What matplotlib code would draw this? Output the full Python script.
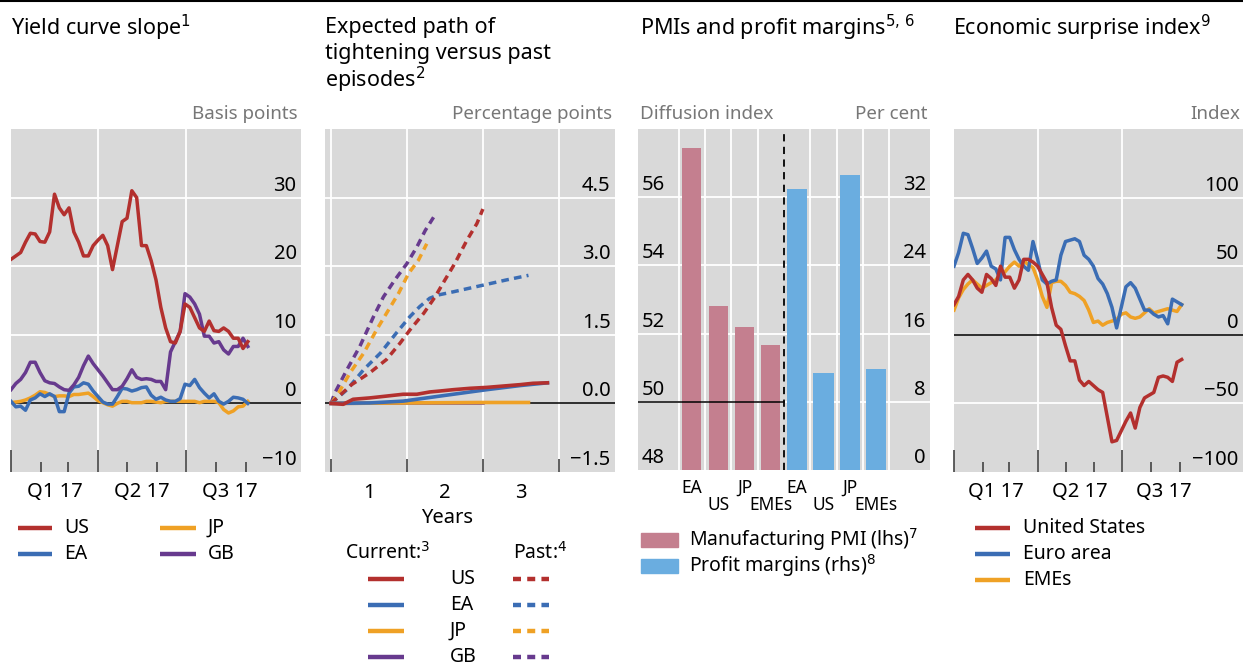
import numpy as np
import matplotlib
matplotlib.use("Agg")
import matplotlib.pyplot as plt
import matplotlib.transforms as mtransforms
from matplotlib.lines import Line2D
from matplotlib.patches import Rectangle

plt.rcParams['font.family'] = ['Noto Sans', 'DejaVu Sans']

# colours
RED = '#b3302e'
BLUE = '#3b6db4'
ORANGE = '#efa125'
PURPLE = '#673a8e'
PINK = '#c47f8f'
LBLUE = '#6aade0'
BG = '#d9d9d9'
UNIT = '#777777'

# ---------------- panel 1: yield curve slope (days since 1 Jan 2017)
days1 = list(range(0, 250, 5))
slope_us = [21, 21.5, 22, 23.5, 24.8, 24.7, 23.6, 23.5, 25, 30.5,
            28.5, 27.5, 28.5, 25, 23.5, 21.5, 21.5, 23, 23.8, 24.5,
            23, 19.5, 23, 26.5, 27, 31, 30, 23, 23, 20.8,
            18, 14, 11, 9, 8.8, 10.5, 14.5, 14, 12.5, 11,
            10.5, 12, 10.6, 10.5, 11, 10.5, 9.5, 9.5, 8, 9]
slope_gb = [2, 2.9, 3.5, 4.5, 6, 6, 4.5, 3.3, 3, 2.9,
            2.4, 2, 1.9, 2.7, 3.8, 5.5, 6.9, 5.8, 4.9, 4,
            3, 2, 2, 2.5, 3.6, 4.9, 3.8, 3.5, 3.6, 3.5,
            3.2, 3.2, 2, 7.5, 9, 10.5, 16, 15.5, 14.5, 13,
            9.8, 9.8, 8.8, 9, 7.8, 7.2, 8.3, 8.3, 9.5, 8.3]
slope_ea = [0.3, -0.5, -0.4, -1, 0.5, 0.8, 1.4, 1, 1.4, 1,
            -1.2, -1.2, 1.5, 2.4, 2.5, 3, 2.8, 1.8, 1, 0.2,
            -0.1, -0.1, 1, 2.2, 2.1, 1.8, 2, 2.3, 2.4, 1.2,
            0.6, 0.9, 0.5, 0.3, 0.3, 0.7, 2.8, 2.6, 3.5, 2.3,
            1.5, 0.8, 1.4, 0.3, -0.1, 0.3, 0.9, 0.8, 0.6, 0]
slope_jp = [0.1, 0.2, 0.3, 0.5, 0.8, 1.2, 1.7, 1.6, 1.3, 1,
            1.1, 1.1, 1, 1.3, 1.3, 1.4, 1.5, 1, 0.4, 0.1,
            -0.2, -0.4, 0, 0.3, 0.3, 0.1, 0.1, 0.1, 0.3, 0.3,
            0.2, 0.1, 0.3, 0.3, 0.3, 0.3, 0.3, 0.3, 0.3, 0.1,
            0.3, 0.3, 0.3, 0.1, -0.9, -1.4, -1.1, -0.5, -0.4, 0.3]

# ---------------- panel 2: expected path of tightening (years)
cur_us_x = [0.5, 0.66, 0.79, 1.01, 1.23, 1.45, 1.63, 1.8, 1.93, 2.11, 2.33, 2.55, 2.77, 2.99, 3.16, 3.35]
cur_us_y = [0, -0.02, 0.09, 0.12, 0.16, 0.2, 0.2, 0.25, 0.27, 0.3, 0.33, 0.35, 0.38, 0.41, 0.44, 0.45]
cur_ea_x = [0.5, 1.01, 1.45, 1.67, 2.11, 2.55, 2.99, 3.35]
cur_ea_y = [0, 0.01, 0.05, 0.1, 0.2, 0.3, 0.39, 0.45]
cur_jp_x = [0.5, 1.5, 2.5, 3.1]
cur_jp_y = [0, 0.01, 0.02, 0.02]
cur_gb_x = [0.5, 1.5, 2.5]
cur_gb_y = [0, 0.01, 0.01]
past_us_x = [0.5, 0.77, 1.01, 1.23, 1.41, 1.54, 1.72, 1.87, 2.0, 2.13, 2.29, 2.42, 2.5]
past_us_y = [0, 0.41, 0.67, 0.96, 1.32, 1.61, 1.97, 2.33, 2.7, 3.06, 3.57, 3.93, 4.25]
past_ea_x = [0.5, 0.71, 0.93, 1.15, 1.36, 1.54, 1.67, 1.8, 1.91, 2.11, 2.46, 2.81, 3.1]
past_ea_y = [0, 0.3, 0.74, 1.1, 1.54, 1.9, 2.12, 2.3, 2.37, 2.44, 2.57, 2.7, 2.8]
past_jp_x = [0.5, 0.6, 0.75, 0.93, 1.1, 1.23, 1.39, 1.52, 1.65, 1.76]
past_jp_y = [0, 0.23, 0.67, 1.1, 1.61, 1.97, 2.41, 2.84, 3.13, 3.49]
past_gb_x = [0.5, 0.55, 0.71, 0.88, 1.06, 1.19, 1.34, 1.5, 1.63, 1.74, 1.85]
past_gb_y = [0, 0.23, 0.74, 1.25, 1.9, 2.33, 2.7, 3.06, 3.42, 3.78, 4.07]

# ---------------- panel 3: PMIs and profit margins
regions = ['EA', 'US', 'JP', 'EMEs']
pmi = [57.45, 52.82, 52.2, 51.68]
margins = [33.0, 11.4, 34.6, 11.8]

# ---------------- panel 4: economic surprise index
days4 = list(range(0, 250, 5))
esi_us = [22, 28, 40, 44, 40, 34, 31, 44, 41, 36,
          50, 42, 42, 34, 40, 55, 55, 53, 50, 44,
          38, 20, 7, 4, -8, -19, -19, -33, -37, -34,
          -37, -40, -42, -60, -78, -77, -70, -63, -57, -68,
          -53, -46, -44, -42, -31, -30, -31, -34, -20, -18]
esi_ea = [50, 60, 74, 73, 63, 52, 56, 61, 50, 48,
          40, 71, 71, 62, 55, 50, 47, 68, 55, 40,
          37, 39, 40, 58, 68, 69, 70, 68, 58, 55,
          50, 41, 37, 30, 20, 5, 20, 35, 38, 34,
          26, 18, 18, 15, 13, 14, 8, 26, 24, 22]
esi_em = [18, 27, 33, 37, 40, 37, 34, 36, 38, 40,
          44, 46, 50, 53, 50, 54, 51, 49, 40, 28,
          20, 38, 39, 39, 36, 31, 30, 28, 25, 18,
          9, 10, 7, 9, 10, 11, 15, 16, 13, 12,
          13, 16, 19, 16, 17, 18, 19, 18, 17, 22]

quarter_starts = [0, 90, 181]
month_starts = [31, 59, 120, 151, 212, 243]
quarter_mids = [45, 135, 226]
quarter_labels = ['Q1 17', 'Q2 17', 'Q3 17']

W, H = 1243, 666
fig = plt.figure(figsize=(W / 100, H / 100), dpi=100)

TICK_FS = 14.5
TITLE_FS = 15.5
UNIT_FS = 13.5
LEG_FS = 14
LW = 2.5


def px_axes(x0, x1, y0=129, y1=472):
    return fig.add_axes([x0 / W, 1 - y1 / H, (x1 - x0) / W, (y1 - y0) / H])


def base_style(ax):
    ax.set_facecolor(BG)
    for s in ax.spines.values():
        s.set_visible(False)
    ax.tick_params(axis='y', left=False, right=False, labelleft=False, labelright=False)


def ylabels(ax, ticks, labels, side='right'):
    tr = mtransforms.blended_transform_factory(ax.transAxes, ax.transData)
    tr = mtransforms.offset_copy(tr, fig=fig, y=1.5, units='points')
    for v, lab in zip(ticks, labels):
        if side == 'right':
            ax.text(0.985, v, lab, transform=tr, ha='right', va='bottom', fontsize=TICK_FS)
        else:
            ax.text(0.012, v, lab, transform=tr, ha='left', va='bottom', fontsize=TICK_FS)


def hgrid(ax, ticks):
    for v in ticks:
        ax.axhline(v, color='white', lw=1.3, zorder=0.5)


def date_axis(ax, xmax):
    ax.set_xlim(0, xmax)
    ax.set_xticks(quarter_starts)
    ax.set_xticks(month_starts, minor=True)
    ax.tick_params(axis='x', which='major', direction='in', length=16, width=1.2,
                   color='#444444', labelbottom=False)
    ax.tick_params(axis='x', which='minor', direction='in', length=7.5, width=1.2,
                   color='#444444', labelbottom=False)
    for q in quarter_starts[1:]:
        ax.axvline(q, color='white', lw=1.3, zorder=0.5)
    tr = mtransforms.blended_transform_factory(ax.transData, ax.transAxes)
    for xm, lab in zip(quarter_mids, quarter_labels):
        ax.text(xm, -0.058, lab, transform=tr, ha='center', va='center', fontsize=TICK_FS)


def fig_text(x, y, s, **kw):
    fig.text(x / W, 1 - y / H, s, **kw)


def leg_line(x0, x1, y, color, dashed=False):
    ln = Line2D([x0 / W, x1 / W], [1 - y / H, 1 - y / H], color=color, lw=3.2,
                transform=fig.transFigure, solid_capstyle='butt', dash_capstyle='butt')
    if dashed:
        ln.set_dashes((1.8, 1.4))
    fig.add_artist(ln)


def leg_patch(x0, x1, y, color):
    fig.add_artist(Rectangle((x0 / W, 1 - (y + 7) / H), (x1 - x0) / W, 14 / H,
                             color=color, transform=fig.transFigure))


# top rule
fig.add_artist(Line2D([0, 1], [1 - 1 / H, 1 - 1 / H], color='black', lw=1.5,
                      transform=fig.transFigure))

# ---------------- panel 1
ax1 = px_axes(11, 301)
base_style(ax1)
ax1.set_ylim(-10, 40)
hgrid(ax1, [10, 20, 30])
ax1.axhline(0, color='black', lw=1.1, zorder=1)
ylabels(ax1, [-10, 0, 10, 20, 30], ['\u221210', '0', '10', '20', '30'])
date_axis(ax1, 300)
ax1.plot(days1, slope_jp, color=ORANGE, lw=LW, zorder=2)
ax1.plot(days1, slope_ea, color=BLUE, lw=LW, zorder=3)
ax1.plot(days1, slope_gb, color=PURPLE, lw=LW, zorder=4)
ax1.plot(days1, slope_us, color=RED, lw=LW, zorder=5)

fig_text(11, 28, 'Yield curve slope$^{1}$', fontsize=TITLE_FS, va='center')
fig_text(298, 114, 'Basis points', fontsize=UNIT_FS, color=UNIT, ha='right', va='center')
leg_line(18, 52, 528, RED)
fig_text(64, 528, 'US', fontsize=LEG_FS, va='center')
leg_line(18, 52, 554, BLUE)
fig_text(64, 554, 'EA', fontsize=LEG_FS, va='center')
leg_line(160, 196, 528, ORANGE)
fig_text(208, 528, 'JP', fontsize=LEG_FS, va='center')
leg_line(160, 196, 554, PURPLE)
fig_text(208, 554, 'GB', fontsize=LEG_FS, va='center')

# ---------------- panel 2
ax2 = px_axes(325, 615)
base_style(ax2)
ax2.set_ylim(-1.5, 6.0)
ax2.set_xlim(0.42, 4.24)
hgrid(ax2, [1.5, 3.0, 4.5])
ax2.axhline(0, color='black', lw=1.1, zorder=1)
ylabels(ax2, [-1.5, 0, 1.5, 3.0, 4.5], ['\u22121.5', '0.0', '1.5', '3.0', '4.5'])
half_years = [0.5, 1.5, 2.5, 3.5]
for v in half_years:
    ax2.axvline(v, color='white', lw=1.3, zorder=0.5)
ax2.set_xticks(half_years)
ax2.tick_params(axis='x', direction='in', length=9.5, width=1.2, color='#444444', labelbottom=False)
tr2 = mtransforms.blended_transform_factory(ax2.transData, ax2.transAxes)
for v in [1, 2, 3]:
    ax2.text(v, -0.06, str(v), transform=tr2, ha='center', va='center', fontsize=TICK_FS)
ax2.text(2.03, -0.135, 'Years', transform=tr2, ha='center', va='center', fontsize=TICK_FS)

dash = (2.2, 1.5)
ax2.plot(past_gb_x, past_gb_y, color=PURPLE, lw=LW, dashes=dash, zorder=2)
ax2.plot(past_jp_x, past_jp_y, color=ORANGE, lw=LW, dashes=dash, zorder=2)
ax2.plot(past_ea_x, past_ea_y, color=BLUE, lw=LW, dashes=dash, zorder=2)
ax2.plot(past_us_x, past_us_y, color=RED, lw=LW, dashes=dash, zorder=2)
ax2.plot(cur_gb_x, cur_gb_y, color=PURPLE, lw=2.6, zorder=3)
ax2.plot(cur_jp_x, cur_jp_y, color=ORANGE, lw=2.6, zorder=3)
ax2.plot(cur_ea_x, cur_ea_y, color=BLUE, lw=2.6, zorder=4)
ax2.plot(cur_us_x, cur_us_y, color=RED, lw=2.6, zorder=5)

fig_text(325, 28, 'Expected path of', fontsize=TITLE_FS, va='center')
fig_text(325, 54, 'tightening versus past', fontsize=TITLE_FS, va='center')
fig_text(325, 80, 'episodes$^{2}$', fontsize=TITLE_FS, va='center')
fig_text(612, 114, 'Percentage points', fontsize=UNIT_FS, color=UNIT, ha='right', va='center')

fig_text(345, 553, 'Current:$^{3}$', fontsize=LEG_FS, va='center')
fig_text(513, 553, 'Past:$^{4}$', fontsize=LEG_FS, va='center')
for yy, lab, col in zip([579, 605, 631, 657], ['US', 'EA', 'JP', 'GB'],
                        [RED, BLUE, ORANGE, PURPLE]):
    leg_line(368, 404, yy, col)
    fig_text(450, yy, lab, fontsize=LEG_FS, va='center')
    leg_line(513, 549, yy, col, dashed=True)

# ---------------- panel 3
ax3 = px_axes(638, 930, 129, 470)
base_style(ax3)
ax3.set_ylim(48, 58)
ax3.set_xlim(-2.05, 9.05)
hgrid(ax3, [50, 52, 54, 56])
ax3.tick_params(axis='x', bottom=False, labelbottom=False)
for v in np.arange(-0.5, 8, 1.0):
    if v == 3.5:
        continue
    ax3.axvline(v, color='white', lw=1.3, zorder=0.5)
ax3.axvline(3.5, color='black', lw=1.3, ls=(0, (4, 3)), zorder=3)
pos_left = np.arange(len(regions))
pos_right = pos_left + 4
ax3.bar(pos_left, np.array(pmi) - 48, bottom=48, width=0.72, color=PINK, zorder=2)
ax3.plot([-2.05, 3.5], [50, 50], color='black', lw=1.1, zorder=2.5)
ax3b = ax3.twinx()
ax3b.patch.set_visible(False)
for s in ax3b.spines.values():
    s.set_visible(False)
ax3b.set_ylim(0, 40)
ax3b.bar(pos_right, margins, width=0.78, color=LBLUE, zorder=2)
for a in (ax3, ax3b):
    a.tick_params(axis='y', which='both', left=False, right=False,
                  labelleft=False, labelright=False)
ylabels(ax3, [48, 50, 52, 54, 56], ['48', '50', '52', '54', '56'], side='left')
ylabels(ax3b, [0, 8, 16, 24, 32], ['0', '8', '16', '24', '32'])
tr3 = mtransforms.blended_transform_factory(ax3.transData, ax3.transAxes)
for i, (p, lab) in enumerate(zip(list(pos_left) + list(pos_right), regions * 2)):
    yoff = -0.052 if i % 2 == 0 else -0.103
    ax3.text(p, yoff, lab, transform=tr3, ha='center', va='center', fontsize=12.5)

fig_text(640, 28, 'PMIs and profit margins$^{5,\\,6}$', fontsize=TITLE_FS, va='center')
fig_text(640, 114, 'Diffusion index', fontsize=UNIT_FS, color=UNIT, va='center')
fig_text(927, 114, 'Per cent', fontsize=UNIT_FS, color=UNIT, ha='right', va='center')
leg_patch(641, 678, 540, PINK)
fig_text(689, 540, 'Manufacturing PMI (lhs)$^{7}$', fontsize=LEG_FS, va='center')
leg_patch(641, 678, 566, LBLUE)
fig_text(689, 566, 'Profit margins (rhs)$^{8}$', fontsize=LEG_FS, va='center')

# ---------------- panel 4
ax4 = px_axes(954, 1243)
base_style(ax4)
ax4.set_ylim(-100, 150)
hgrid(ax4, [-50, 50, 100])
ax4.axhline(0, color='black', lw=1.1, zorder=1)
ylabels(ax4, [-100, -50, 0, 50, 100], ['\u2212100', '\u221250', '0', '50', '100'])
date_axis(ax4, 311)
ax4.plot(days4, esi_em, color=ORANGE, lw=LW, zorder=2)
ax4.plot(days4, esi_ea, color=BLUE, lw=LW, zorder=3)
ax4.plot(days4, esi_us, color=RED, lw=LW, zorder=4)

fig_text(953, 28, 'Economic surprise index$^{9}$', fontsize=TITLE_FS, va='center')
fig_text(1240, 114, 'Index', fontsize=UNIT_FS, color=UNIT, ha='right', va='center')
for yy, lab, col in zip([528, 554, 580], ['United States', 'Euro area', 'EMEs'],
                        [RED, BLUE, ORANGE]):
    leg_line(975, 1010, yy, col)
    fig_text(1023, yy, lab, fontsize=LEG_FS, va='center')

fig.savefig('out.png', dpi=100)
